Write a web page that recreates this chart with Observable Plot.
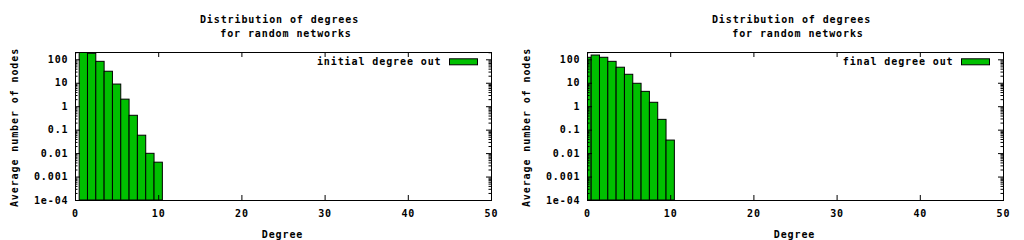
<!DOCTYPE html>
<html><head><meta charset="utf-8">
<script src="https://cdn.jsdelivr.net/npm/d3@7"></script>
<script src="https://cdn.jsdelivr.net/npm/@observablehq/plot@0.6"></script>
<style>
body{margin:0;background:#fff}
#wrap{display:flex;width:1024px;height:240px}
#wrap svg{display:block}
</style>
</head><body><div id="wrap"></div>
<script>
// ---- data ----
const titleLines = ["Distribution of degrees", "for random networks"];
const xLabel = "Degree";
const yLabel = "Average number of nodes";
const xTicks = [0, 10, 20, 30, 40, 50];
const yTicks = [1e-4, 1e-3, 1e-2, 0.1, 1, 10, 100];
const yTickLabels = ["1e-04", "0.001", "0.01", "0.1", "1", "10", "100"];
const xDomain = [0, 50];
const yDomain = [1e-4, 205];

const initialName = "initial degree out";
const initialDegrees = [1, 2, 3, 4, 5, 6, 7, 8, 9, 10];
const initialValues = [250, 180, 82, 31, 8.8, 2.0, 0.41, 0.058, 0.0098, 0.0041];

const finalName = "final degree out";
const finalDegrees = [0, 1, 2, 3, 4, 5, 6, 7, 8, 9, 10];
const finalValues = [122, 152, 122, 82, 46, 23, 9.5, 4.3, 1.47, 0.275, 0.036];

// ---- layout ----
const W = 512, H = 240, mL = 75, mR = 21, mT = 52, mB = 40;
const fw = W - mL - mR, fh = H - mT - mB;
const major = 5, minor = 2.5;
const green = "#00c000";

const minorTicks = [];
yTicks.forEach(d => { for (let k = 2; k <= 9; k++) { const v = d * k; if (v <= yDomain[1]) minorTicks.push(v); } });

function makeChart(degrees, values, name) {
  const data = degrees.map((d, i) => ({degree: d, value: values[i]}));
  return Plot.plot({
    width: W, height: H,
    marginLeft: mL, marginRight: mR, marginTop: mT, marginBottom: mB,
    style: {fontFamily: "DejaVu Sans Mono", fontSize: "10px", fontWeight: "bold", letterSpacing: "0.9px", background: "#fff", color: "#000"},
    x: {domain: xDomain, axis: null},
    y: {type: "log", domain: yDomain, axis: null, label: null},
    marks: [
      Plot.rect(data, {x1: d => d.degree - 0.5, x2: d => d.degree + 0.5, y1: () => yDomain[0], y2: "value", fill: green, stroke: "black", strokeWidth: 1, clip: true}),
      // inward ticks (gnuplot style, mirrored)
      Plot.tickY(yTicks, {y: d => d, insetRight: fw - major, stroke: "black"}),
      Plot.tickY(yTicks, {y: d => d, insetLeft: fw - major, stroke: "black"}),
      Plot.tickY(minorTicks, {y: d => d, insetRight: fw - minor, stroke: "black"}),
      Plot.tickY(minorTicks, {y: d => d, insetLeft: fw - minor, stroke: "black"}),
      Plot.tickX(xTicks, {x: d => d, insetTop: fh - major, stroke: "black"}),
      Plot.tickX(xTicks, {x: d => d, insetBottom: fh - major, stroke: "black"}),
      Plot.frame({stroke: "black", strokeWidth: 1}),
      Plot.axisX(xTicks, {tickSize: 0, tickPadding: 9, label: null}),
      Plot.axisY(yTicks, {tickSize: 0, tickPadding: 7, label: null, tickFormat: d => yTickLabels[yTicks.indexOf(d)]}),
      // titles & labels
      Plot.text([titleLines[0]], {text: d => d, frameAnchor: "top", lineAnchor: "middle", textAnchor: "middle", dx: -4, dy: -32.5}),
      Plot.text([titleLines[1]], {text: d => d, frameAnchor: "top", lineAnchor: "middle", textAnchor: "middle", dx: 2.5, dy: -19.2}),
      Plot.text([xLabel], {text: d => d, frameAnchor: "bottom", lineAnchor: "middle", textAnchor: "middle", dx: -1, dy: 33.8}),
      Plot.text([yLabel], {text: d => d, frameAnchor: "left", lineAnchor: "middle", textAnchor: "middle", rotate: -90, dx: -60.7, dy: 1}),
      // legend
      Plot.text([name], {text: d => d, frameAnchor: "top-right", lineAnchor: "middle", textAnchor: "end", dx: -50, dy: 9.3}),
      Plot.frame({fill: green, stroke: "black", strokeWidth: 1, insetLeft: 374, insetRight: 14, insetTop: 6.3, insetBottom: fh - 12.3})
    ]
  });
}

const wrap = document.getElementById("wrap");
wrap.appendChild(makeChart(initialDegrees, initialValues, initialName));
wrap.appendChild(makeChart(finalDegrees, finalValues, finalName));
</script>
</body></html>
